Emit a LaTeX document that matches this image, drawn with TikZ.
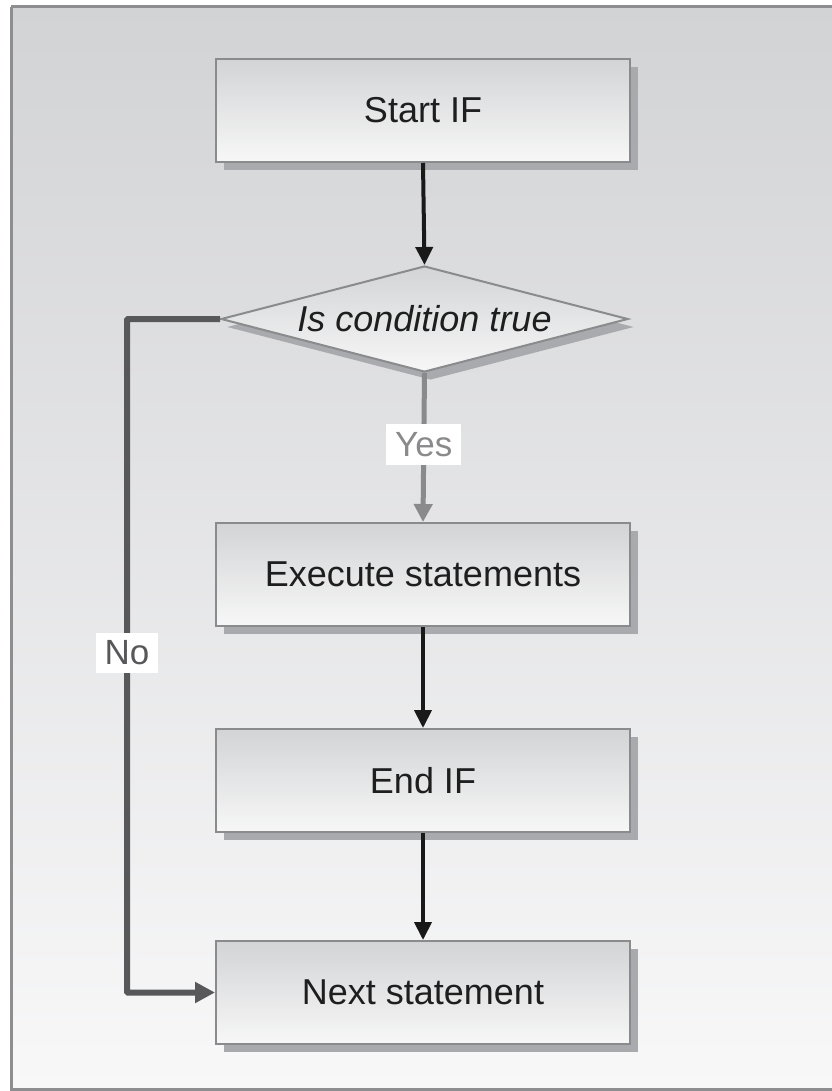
\documentclass[tikz,border=0pt]{standalone}
\usepackage{fontspec}
\setmainfont{Liberation Sans}
\usetikzlibrary{arrows.meta,shapes.geometric,shadows}
\definecolor{framec}{HTML}{8E8E90}
\definecolor{bgtop}{HTML}{D2D3D5}
\definecolor{bgbot}{HTML}{F8F8F9}
\definecolor{boxtop}{HTML}{D3D4D6}
\definecolor{boxbot}{HTML}{F7F7F7}
\definecolor{boxedge}{HTML}{8A8B8D}
\definecolor{shadowc}{HTML}{A9AAAD}
\definecolor{yesc}{HTML}{8A8A8C}
\definecolor{noc}{HTML}{58585A}
\definecolor{txt}{HTML}{1E1E1E}
\tikzset{
  stepbox/.style={rectangle, draw=boxedge, line width=2pt, top color=boxtop, bottom color=boxbot,
    minimum width=414pt, minimum height=103pt, inner sep=0pt, text=txt,
    font=\fontsize{36}{42}\selectfont,
    drop shadow={shadow xshift=8pt, shadow yshift=-8pt, opacity=1, fill=shadowc, draw=none}},
  decide/.style={diamond, draw=boxedge, line width=2pt, top color=boxtop, bottom color=boxbot,
    minimum width=407pt, minimum height=106pt, inner sep=0pt, shape aspect=3.84, text=txt,
    font=\fontsize{36}{42}\selectfont\itshape,
    drop shadow={shadow xshift=6pt, shadow yshift=-8pt, opacity=1, fill=shadowc, draw=none}},
  flow/.style={line width=4pt, draw=black!90, -{Triangle[length=18pt,width=17pt]}},
  yesflow/.style={line width=5pt, draw=yesc, -{Triangle[length=18pt,width=18pt]}},
  noflow/.style={line width=6pt, draw=noc, -{Triangle[length=20pt,width=20pt]}},
  lab/.style={fill=white, inner xsep=9pt, inner ysep=8pt, font=\fontsize{35}{40}\selectfont}
}
\begin{document}
\begin{tikzpicture}[x=1pt,y=-1pt]
\useasboundingbox (0,0) rectangle (831,1091);
\fill[white] (0,0) rectangle (831,1091);
\shade[top color=bgtop, bottom color=bgbot] (11,7) rectangle (832,1089);
\draw[framec, line width=3pt] (11,7) -- (832,7) (11,7) -- (11,1089) -- (832,1089);

\node[stepbox] (start) at (423,110.5) {Start IF};
\node[decide] (cond) at (424.5,319) {Is condition true};
\node[stepbox] (exec) at (423,574.5) {Execute statements};
\node[stepbox] (endif) at (423,780.5) {End IF};
\node[stepbox] (next) at (423,992.5) {Next statement};
\coordinate (nl) at (127,319);
\coordinate (nb) at (127,992.5);

\draw[flow] (start.south) -- (cond.north);
\draw[yesflow] (cond.south) -- (exec.north)
  node[pos=0.48, lab, text=yesc] (yes) {Yes};
\draw[flow] (exec.south) -- (endif.north);
\draw[flow] (endif.south) -- (next.north);
\draw[noflow, rounded corners=1pt] (cond.west) -- (nl) -- (nb) -- (next.west);
\node[lab, text=noc] (no) at (127,653) {No};
\end{tikzpicture}
\end{document}
